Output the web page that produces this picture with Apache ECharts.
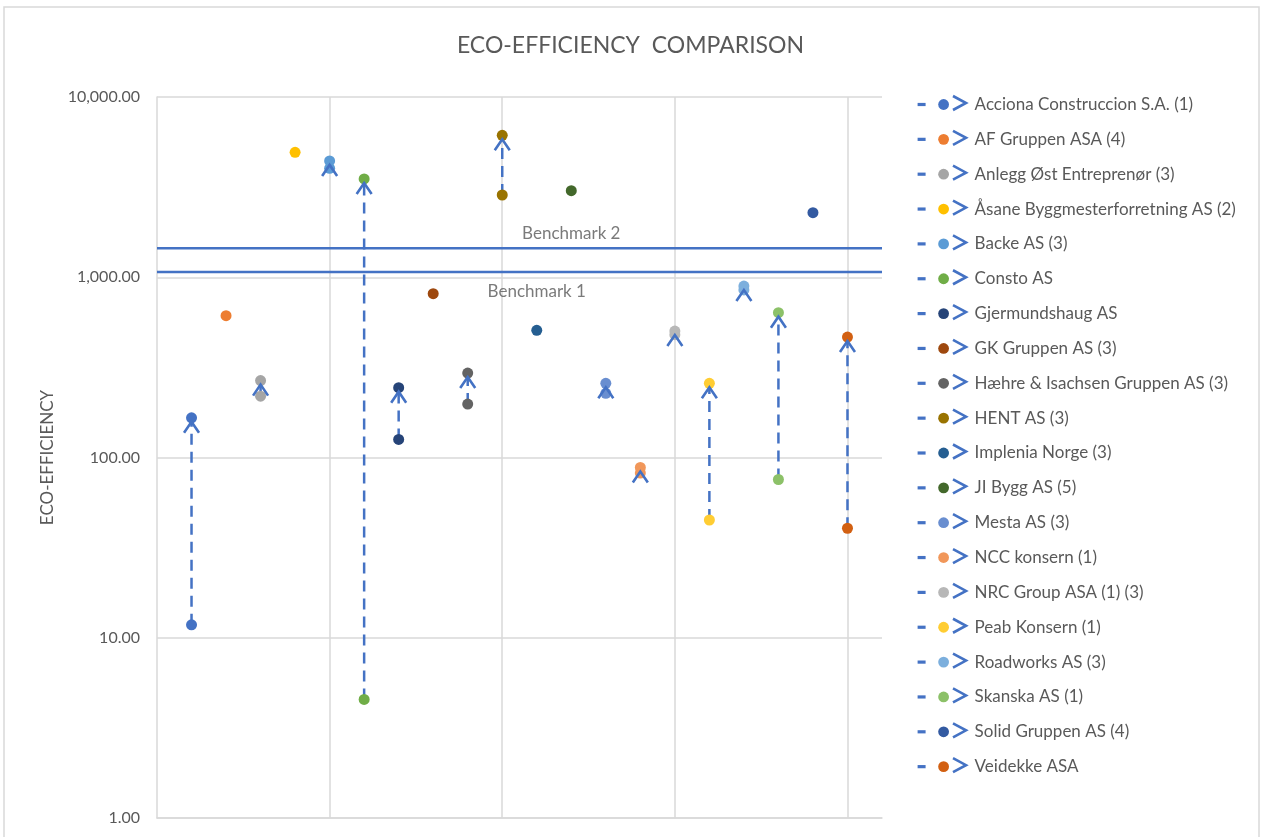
<!DOCTYPE html>
<html>
<head>
<meta charset="utf-8">
<title>Eco-efficiency comparison</title>
<script src="https://cdn.jsdelivr.net/npm/echarts@6/dist/echarts.min.js"></script>
<style>
  html, body { margin: 0; padding: 0; background: #fff; }
  #chart { width: 1261px; height: 837px; }
</style>
</head>
<body>
<div id="chart"></div>
<script>
// companies in legend order, x position = index + 1
const companies = [
  'Acciona Construccion S.A. (1)', 'AF Gruppen ASA (4)', 'Anlegg Øst Entreprenør (3)',
  'Åsane Byggmesterforretning AS (2)', 'Backe AS (3)', 'Consto AS', 'Gjermundshaug AS',
  'GK Gruppen AS (3)', 'Hæhre & Isachsen Gruppen AS (3)', 'HENT AS (3)', 'Implenia Norge (3)',
  'JI Bygg AS (5)', 'Mesta AS (3)', 'NCC konsern (1)', 'NRC Group ASA (1) (3)',
  'Peab Konsern (1)', 'Roadworks AS (3)', 'Skanska AS (1)', 'Solid Gruppen AS (4)', 'Veidekke ASA'
];
// first value (arrow start), null when the company has only one point
const startValues = [11.8, null, 219, null, 4020, 4.55, 126, null, 198, 2860,
  null, null, 227, 82, 480, 45, 850, 75.5, null, 40.5];
// second value (arrow end)
const endValues = [166, 612, 267, 4930, 4420, 3510, 244, 811, 294, 6130,
  508, 3020, 258, 88, 503, 258, 894, 636, 2280, 466];
const colors = ['#4472C4', '#ED7D31', '#A5A5A5', '#FFC000', '#5B9BD5', '#70AD47', '#264478',
  '#9E480E', '#636363', '#997300', '#255E91', '#43682B', '#698ED0', '#F1975A', '#B7B7B7',
  '#FFCD33', '#7CAFDD', '#8CC168', '#335AA1', '#D26012'];
const benchmarkNames = ['Benchmark 1', 'Benchmark 2'];
const benchmarkValues = [1070, 1450];
const benchmarkLabelX = [11, 12];

const arrowBlue = '#4472C4';
const textGrey = '#595959';
const gridGrey = '#D9D9D9';
const font = 'Lato, "Noto Sans", sans-serif';

const chart = echarts.init(document.getElementById('chart'));

const series = [];
companies.forEach((name, i) => {
  const x = i + 1;
  const pts = startValues[i] == null ? [[x, endValues[i]]] : [[x, startValues[i]], [x, endValues[i]]];
  series.push({
    name: name,
    type: 'line',
    data: pts,
    symbol: 'circle',
    symbolSize: 11,
    itemStyle: { color: colors[i] },
    lineStyle: { color: arrowBlue, width: 2.5, type: [11, 7] },
    z: 3,
    silent: true
  });
});

// arrow heads at the end of each two-point series
const arrows = [];
companies.forEach((name, i) => {
  if (startValues[i] != null) arrows.push([i + 1, startValues[i], endValues[i]]);
});
series.push({
  type: 'custom',
  name: 'arrows',
  data: arrows,
  z: 4,
  silent: true,
  renderItem: (params, api) => {
    const end = api.coord([api.value(0), api.value(2)]);
    const dir = api.value(2) > api.value(1) ? 1 : -1;
    const tip = end[1] + dir * 4;
    const base = end[1] + dir * 15;
    return {
      type: 'polyline',
      shape: { points: [[end[0] - 7.5, base], [end[0], tip], [end[0] + 7.5, base]] },
      style: { stroke: arrowBlue, lineWidth: 2.6, fill: null, lineJoin: 'miter' }
    };
  }
});

// benchmark lines
benchmarkValues.forEach((v, i) => {
  series.push({
    name: benchmarkNames[i],
    type: 'line',
    data: [[0, v], [21, v]],
    symbol: 'none',
    lineStyle: { color: arrowBlue, width: 2.5 },
    z: 2,
    silent: true
  });
  series.push({
    type: 'scatter',
    name: benchmarkNames[i] + ' label',
    data: [[benchmarkLabelX[i], v]],
    symbolSize: 0,
    silent: true,
    label: {
      show: true,
      formatter: benchmarkNames[i],
      position: i === 0 ? 'bottom' : 'top',
      distance: i === 0 ? 11 : 6,
      color: textGrey,
      fontSize: 17,
      fontFamily: font
    }
  });
});

const option = {
  backgroundColor: '#fff',
  animation: false,
  title: {
    text: 'ECO-EFFICIENCY  COMPARISON',
    left: 'center',
    top: 29,
    textStyle: { color: textGrey, fontSize: 23, fontWeight: 'normal', fontFamily: font }
  },
  grid: { left: 157, top: 97, right: 379, bottom: 19 },
  legend: {
    data: companies,
    orient: 'vertical',
    left: 916,
    top: 94.5,
    padding: 0,
    itemWidth: 52,
    itemHeight: 13.5,
    itemGap: 14.85,
    lineStyle: { color: arrowBlue, width: 3.2, type: [8, 100] },
    textStyle: { color: textGrey, fontSize: 17, lineHeight: 20, fontFamily: font },
    selectedMode: false
  },
  xAxis: {
    type: 'value',
    min: 0,
    max: 21,
    interval: 5,
    axisLine: { show: true, lineStyle: { color: gridGrey, width: 1.5 } },
    axisTick: { show: false },
    axisLabel: { show: false },
    splitLine: { show: true, showMinLine: false, showMaxLine: false, lineStyle: { color: gridGrey, width: 1.5 } }
  },
  yAxis: {
    type: 'log',
    logBase: 10,
    min: 1,
    max: 10000,
    name: 'ECO-EFFICIENCY',
    nameLocation: 'middle',
    nameGap: 101,
    nameTextStyle: { color: textGrey, fontSize: 17, fontFamily: font },
    axisLine: { show: true, lineStyle: { color: gridGrey, width: 1.5 } },
    axisTick: { show: false },
    axisLabel: {
      color: textGrey,
      fontSize: 16,
      fontFamily: font,
      margin: 17,
      formatter: v => v.toLocaleString('en-US', { minimumFractionDigits: 2, maximumFractionDigits: 2 })
    },
    splitLine: { show: true, lineStyle: { color: gridGrey, width: 1.5 } }
  },
  graphic: [
    {
      type: 'rect',
      shape: { x: 4, y: 7, width: 1255, height: 900 },
      style: { fill: null, stroke: gridGrey, lineWidth: 1.5 },
      silent: true,
      z: -1
    },
    {
      type: 'group',
      silent: true,
      children: companies.map((name, i) => {
        const c = 103 + i * 34.85;
        return {
          type: 'polyline',
          shape: { points: [[953, c - 7], [966, c], [953, c + 7]] },
          style: { stroke: arrowBlue, lineWidth: 2.6, fill: null }
        };
      })
    }
  ],
  series: series
};

chart.setOption(option);
</script>
</body>
</html>
